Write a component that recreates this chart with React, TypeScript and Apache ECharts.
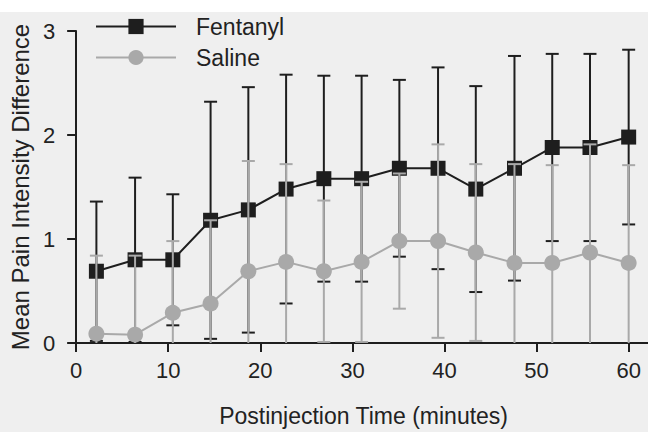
import React, { useEffect, useRef } from "react";
import * as echarts from "echarts";

const times = [2.2, 6.4, 10.5, 14.6, 18.7, 22.8, 26.9, 31.0, 35.1, 39.3, 43.4, 47.6, 51.7, 55.8, 60];
const fentanylMean = [0.69, 0.8, 0.8, 1.18, 1.28, 1.48, 1.58, 1.58, 1.68, 1.68, 1.48, 1.68, 1.88, 1.88, 1.98];
const fentanylSD = [0.67, 0.79, 0.63, 1.14, 1.18, 1.1, 0.99, 0.99, 0.85, 0.97, 0.99, 1.08, 0.9, 0.9, 0.84];
const salineMean = [0.09, 0.08, 0.29, 0.38, 0.69, 0.78, 0.69, 0.78, 0.98, 0.98, 0.87, 0.77, 0.77, 0.87, 0.77];
const salineSD = [0.75, 0.76, 0.69, 0.8, 1.06, 0.94, 0.68, 0.77, 0.65, 0.93, 0.85, 0.95, 0.94, 1.04, 0.94];
const seriesNames = ["Fentanyl", "Saline"];
const xAxisTitle = "Postinjection Time (minutes)";
const yAxisTitle = "Mean Pain Intensity Difference";

const FONT = "Liberation Sans, Arial, sans-serif";
const BLACK = "#1e1e1e";
const GRAY = "#a9a9a9";

function errorBars(color: string, width: number) {
  return (params: any, api: any) => {
    const x = api.value(0);
    const m = api.value(1);
    const sd = api.value(2);
    const hi = m + sd;
    const lo = m - sd;
    const top = api.coord([x, hi]);
    const bot = api.coord([x, Math.max(lo, 0)]);
    const half = 6.5;
    const style = { stroke: color, lineWidth: width };
    const children: any[] = [
      { type: "line", shape: { x1: top[0], y1: top[1], x2: bot[0], y2: bot[1] }, style },
      { type: "line", shape: { x1: top[0] - half, y1: top[1], x2: top[0] + half, y2: top[1] }, style },
    ];
    if (lo >= 0) {
      children.push({ type: "line", shape: { x1: bot[0] - half, y1: bot[1], x2: bot[0] + half, y2: bot[1] }, style });
    }
    return { type: "group", children };
  };
}

export default function App() {
  const ref = useRef<HTMLDivElement>(null);
  useEffect(() => {
    if (!ref.current) return;
    const chart = echarts.init(ref.current, null, { renderer: "svg" });
    const fData = times.map((t, i) => [t, fentanylMean[i], fentanylSD[i]]);
    const sData = times.map((t, i) => [t, salineMean[i], salineSD[i]]);
    chart.setOption({
      animation: false,
      backgroundColor: "#efefef",
      textStyle: { fontFamily: FONT },
      graphic: [
        { type: "rect", left: 0, top: 0, z: -10, shape: { width: 648, height: 12 }, style: { fill: "#ffffff" } },
      ],
      legend: {
        orient: "vertical",
        left: 90,
        top: 10,
        itemWidth: 80,
        itemHeight: 19,
        itemGap: 8,
        data: seriesNames,
        textStyle: { fontSize: 23, color: "#222", fontFamily: FONT, lineHeight: 22, padding: [0, 0, 0, 15] },
      },
      grid: { left: 76, right: 0, top: 31, bottom: 86 },
      xAxis: {
        type: "value",
        min: 0,
        max: 62.1,
        interval: 10,
        name: xAxisTitle,
        nameLocation: "middle",
        nameGap: 61,
        nameTextStyle: { fontSize: 23, color: "#222", fontFamily: FONT, padding: [0, 0, 0, 3] },
        axisLine: { lineStyle: { color: BLACK, width: 2 } },
        axisTick: { length: 9, lineStyle: { color: BLACK, width: 2 } },
        axisLabel: { fontSize: 22, color: "#222", margin: 16, showMaxLabel: false, fontFamily: FONT },
        splitLine: { show: false },
      },
      yAxis: {
        type: "value",
        min: 0,
        max: 3,
        interval: 1,
        name: yAxisTitle,
        nameLocation: "middle",
        nameGap: 43,
        nameTextStyle: { fontSize: 24, color: "#222", fontFamily: FONT },
        axisLine: { show: true, lineStyle: { color: BLACK, width: 2 } },
        axisTick: { show: true, length: 9, lineStyle: { color: BLACK, width: 2 } },
        axisLabel: { fontSize: 22, color: "#222", margin: 21, fontFamily: FONT },
        splitLine: { show: false },
      },
      series: [
        {
          type: "custom",
          name: "FentanylErr",
          renderItem: errorBars(BLACK, 2),
          data: fData,
          encode: { x: 0, y: 1 },
          z: 2,
          silent: true,
        },
        {
          type: "line",
          name: seriesNames[0],
          data: fData.map((d) => [d[0], d[1]]),
          symbol: "rect",
          symbolSize: 15,
          clip: false,
          itemStyle: { color: BLACK },
          lineStyle: { color: BLACK, width: 2 },
          z: 3,
        },
        {
          type: "custom",
          name: "SalineErr",
          renderItem: errorBars(GRAY, 2),
          data: sData,
          encode: { x: 0, y: 1 },
          z: 4,
          silent: true,
        },
        {
          type: "line",
          name: seriesNames[1],
          data: sData.map((d) => [d[0], d[1]]),
          symbol: "circle",
          symbolSize: 16,
          clip: false,
          itemStyle: { color: GRAY },
          lineStyle: { color: GRAY, width: 2 },
          z: 5,
        },
      ],
    });
    return () => chart.dispose();
  }, []);
  return <div ref={ref} style={{ position: "fixed", left: 0, top: 0, width: 648, height: 432 }} />;
}
